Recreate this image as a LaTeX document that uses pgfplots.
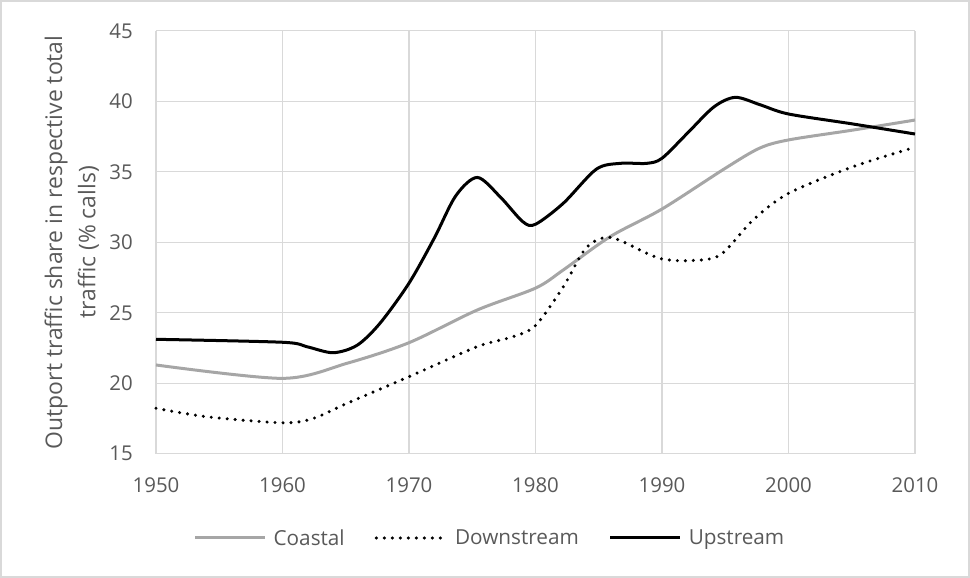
\documentclass[border=0pt]{standalone}
\usepackage{pgfplots}
\pgfplotsset{compat=1.18}
\usepackage{fontspec}
\setmainfont{Open Sans}
\definecolor{txt}{HTML}{595959}
\definecolor{grd}{HTML}{D9D9D9}
\definecolor{coast}{HTML}{A6A6A6}
\begin{document}
\begin{tikzpicture}
\useasboundingbox (-156bp,-124.2bp) rectangle (814bp,453.8bp);
\draw[grd, line width=1.5bp] (-155bp,-123.2bp) rectangle (813bp,452.8bp);
\begin{axis}[
  at={(0,0)}, anchor=south west,
  scale only axis, width=759bp, height=423bp,
  xmin=1950, xmax=2010, ymin=15, ymax=45,
  xtick={1950,1960,...,2010}, ytick={15,20,...,45},
  xticklabel style={/pgf/number format/1000 sep={}},
  /pgf/number format/assume math mode=true,
  major tick length=0pt,
  axis line style={draw=none},
  grid=major, major grid style={grd, line width=1.3bp},
  tick label style={font=\fontsize{20.5}{24}\selectfont, text=txt, inner sep=0pt},
  xticklabel style={anchor=center, yshift=-31bp},
  yticklabel style={anchor=east, xshift=-23bp},
  ylabel={Outport traffic share in respective total\\traffic (\% calls)},
  every axis y label/.style={at={(rel axis cs:-0.111,0.5)}, rotate=90, anchor=center, align=center, font=\fontsize{23}{33.5}\selectfont, text=txt},
  clip=false,
  legend columns=3,
  legend style={at={(rel axis cs:0.44,-0.199)}, anchor=center, draw=none, fill=none,
    font=\fontsize{20.8}{24}\selectfont, text=txt,
    /tikz/every odd column/.append style={column sep=5bp},
    /tikz/every even column/.append style={column sep=28bp}},
  legend image code/.code={\draw[#1] (0bp,0bp) -- (70bp,0bp);},
]
\addplot[coast, line width=3bp, smooth, tension=0.5] coordinates {
(1950,21.3) (1960,20.35) (1965.1,21.42) (1970,22.88) (1975.4,25.2) (1980,26.75)
(1982.2,28.04) (1985.9,30.4) (1990,32.36) (1995,35.25) (1997.7,36.67) (2000,37.26)
(2005.1,37.96) (2010,38.67)};
\addlegendentry{Coastal}
\addplot[black, line width=3.4bp, line cap=round, dash pattern=on 0bp off 8bp, smooth, tension=0.5] coordinates {
(1950,18.23) (1954,17.63) (1960,17.2) (1962.4,17.5) (1965.1,18.58) (1970,20.47)
(1975.4,22.6) (1978.2,23.3) (1980,24.1) (1982.2,26.85) (1984,29.6) (1985.9,30.35)
(1988.8,29.22) (1990.1,28.8) (1992.2,28.7) (1994.6,29.1) (1997.2,31.58) (2000,33.47)
(2005.1,35.36) (2010,36.74)};
\addlegendentry{Downstream}
\addplot[black, line width=3bp, smooth, tension=0.5] coordinates {
(1950,23.12) (1960,22.91) (1961.9,22.6) (1964,22.17) (1965.9,22.7) (1967.7,24.25)
(1970,27.1) (1972,30.3) (1973.7,33.3) (1975.4,34.6) (1977.2,33.23) (1979,31.46)
(1980,31.28) (1982.2,32.77) (1984.8,35.18) (1986.7,35.6) (1988.8,35.6) (1990,35.96)
(1992,37.73) (1994.1,39.6) (1995.8,40.28) (1997.8,39.74) (2000,39.1) (2005.1,38.39)
(2010,37.68)};
\addlegendentry{Upstream}
\end{axis}
\end{tikzpicture}
\end{document}
